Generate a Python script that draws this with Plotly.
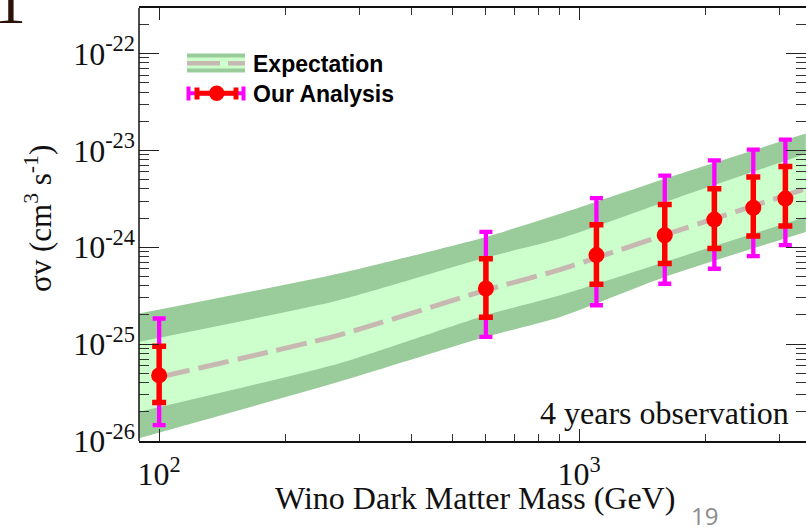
import plotly.graph_objects as go

# ---- data -------------------------------------------------------------
# Expected sensitivity band (log-log), mass in GeV, <sigma v> in cm^3 s^-1
band_mass = [89.6, 268, 600, 902, 1600, 3467]
band_outer_hi = [2.07e-25, 5.36e-25, 1.28e-24, 2.22e-24, 5.11e-24, 1.49e-23]
band_inner_hi = [1.06e-25, 2.84e-25, 7.83e-25, 1.23e-24, 2.93e-24, 9.25e-24]
band_inner_lo = [2.00e-26, 6.32e-26, 1.99e-25, 3.20e-25, 7.05e-25, 2.05e-24]
band_outer_lo = [1.07e-26, 4.08e-26, 1.19e-25, 1.91e-25, 4.94e-25, 1.44e-24]

median_mass = [100, 268, 600, 902, 1600, 3467]
median_sv = [4.57e-26, 1.24e-25, 3.61e-25, 5.89e-25, 1.34e-24, 4.03e-24]

# Analysis result points
wino_mass = [100, 600, 1100, 1600, 2100, 2600, 3100]
sv_center = [4.75e-26, 3.75e-25, 8.3e-25, 1.33e-24, 1.93e-24, 2.56e-24, 3.18e-24]
sv_68_hi = [9.5e-26, 7.6e-25, 1.71e-24, 2.77e-24, 4.03e-24, 5.3e-24, 6.8e-24]
sv_68_lo = [2.5e-26, 1.9e-25, 4.16e-25, 6.8e-25, 9.7e-25, 1.31e-24, 1.66e-24]
sv_95_hi = [1.84e-25, 1.44e-24, 3.22e-24, 5.5e-24, 7.9e-24, 1.02e-23, 1.29e-23]
sv_95_lo = [1.46e-26, 1.19e-25, 2.52e-25, 4.2e-25, 6.0e-25, 8.1e-25, 1.05e-24]

# Axis ticks
x_tickvals = [100, 1000]
x_ticktext = ["10<sup>2</sup>", "10<sup>3</sup>"]
y_tickvals = [1e-26, 1e-25, 1e-24, 1e-23, 1e-22]
y_ticktext = ["10<sup>-26</sup>", "10<sup>-25</sup>", "10<sup>-24</sup>",
              "10<sup>-23</sup>", "10<sup>-22</sup>"]

# ---- styling ----------------------------------------------------------
W, H = 806, 529
ML, MR, MT, MB = 139, 0, 8, 88
PW, PH = W - ML - MR, H - MT - MB

DARK_GREEN = "#9acb9a"
LIGHT_GREEN = "#ccffcc"
MEDIAN_COL = "#c8b8b2"
SERIF = "Liberation Serif, Times New Roman, serif"
SANS = "Liberation Sans, Arial, sans-serif"
SMOOTH = dict(width=0, shape="spline", smoothing=0.6)


def px(x):
    """horizontal pixel -> paper coordinate"""
    return (x - ML) / PW


def py(y):
    """vertical pixel (from top) -> paper coordinate"""
    return 1 - (y - MT) / PH


fig = go.Figure()

# outer band
fig.add_trace(go.Scatter(x=band_mass, y=band_outer_hi, mode="lines",
                         line=SMOOTH, showlegend=False, hoverinfo="skip"))
fig.add_trace(go.Scatter(x=band_mass, y=band_outer_lo, mode="lines",
                         line=SMOOTH, fill="tonexty", fillcolor=DARK_GREEN,
                         showlegend=False, hoverinfo="skip"))
# inner band
fig.add_trace(go.Scatter(x=band_mass, y=band_inner_hi, mode="lines",
                         line=SMOOTH, showlegend=False, hoverinfo="skip"))
fig.add_trace(go.Scatter(x=band_mass, y=band_inner_lo, mode="lines",
                         line=SMOOTH, fill="tonexty", fillcolor=LIGHT_GREEN,
                         showlegend=False, hoverinfo="skip"))
# median expectation
fig.add_trace(go.Scatter(x=median_mass, y=median_sv, mode="lines",
                         line=dict(color=MEDIAN_COL, width=5, dash="31px,9px",
                                   shape="spline", smoothing=0.6),
                         showlegend=False))

# 95% error bars
fig.add_trace(go.Scatter(
    x=wino_mass, y=sv_center, mode="markers", marker=dict(size=1, opacity=0),
    error_y=dict(type="data", symmetric=False,
                 array=[h - c for h, c in zip(sv_95_hi, sv_center)],
                 arrayminus=[c - l for c, l in zip(sv_center, sv_95_lo)],
                 color="#ff00ff", thickness=4.3, width=6.5),
    showlegend=False))
# 68% error bars with points
fig.add_trace(go.Scatter(
    x=wino_mass, y=sv_center, mode="markers",
    marker=dict(size=16, color="#ff0000"),
    error_y=dict(type="data", symmetric=False,
                 array=[h - c for h, c in zip(sv_68_hi, sv_center)],
                 arrayminus=[c - l for c, l in zip(sv_center, sv_68_lo)],
                 color="#ff0000", thickness=5.5, width=7),
    showlegend=False))

# ---- hand-drawn legend ------------------------------------------------
shapes = []
# band icon
shapes.append(dict(type="rect", xref="paper", yref="paper",
                   x0=px(187), x1=px(245), y0=py(72.5), y1=py(53.5),
                   fillcolor=DARK_GREEN, line=dict(width=0)))
shapes.append(dict(type="rect", xref="paper", yref="paper",
                   x0=px(187), x1=px(245), y0=py(68.5), y1=py(57.5),
                   fillcolor=LIGHT_GREEN, line=dict(width=0)))
for a, b in [(187, 220), (228, 245)]:
    shapes.append(dict(type="line", xref="paper", yref="paper",
                       x0=px(a), x1=px(b), y0=py(63.3), y1=py(63.3),
                       line=dict(color=MEDIAN_COL, width=4.5)))
# error-bar icon
shapes.append(dict(type="line", xref="paper", yref="paper",
                   x0=px(187), x1=px(245), y0=py(93.3), y1=py(93.3),
                   line=dict(color="#ff00ff", width=4)))
for xc in (188.5, 243.5):
    shapes.append(dict(type="line", xref="paper", yref="paper",
                       x0=px(xc), x1=px(xc), y0=py(86.5), y1=py(100.5),
                       line=dict(color="#ff00ff", width=4)))
shapes.append(dict(type="line", xref="paper", yref="paper",
                   x0=px(196), x1=px(237), y0=py(93.3), y1=py(93.3),
                   line=dict(color="#ff0000", width=5)))
for xc in (197, 236):
    shapes.append(dict(type="line", xref="paper", yref="paper",
                       x0=px(xc), x1=px(xc), y0=py(87.5), y1=py(99.5),
                       line=dict(color="#ff0000", width=5)))
shapes.append(dict(type="circle", xref="paper", yref="paper",
                   x0=px(209), x1=px(224.5), y0=py(101), y1=py(85.5),
                   fillcolor="#ff0000", line=dict(width=0)))
# left frame line
shapes.append(dict(type="line", xref="paper", yref="paper",
                   x0=0, x1=0, y0=0, y1=1, line=dict(color="#111", width=1.5)))

annotations = [
    dict(text="<b>Expectation</b>", xref="paper", yref="paper",
         x=px(251), y=py(63.5), xanchor="left", yanchor="middle",
         showarrow=False, font=dict(family=SANS, size=23, color="#000")),
    dict(text="<b>Our Analysis</b>", xref="paper", yref="paper",
         x=px(251), y=py(94), xanchor="left", yanchor="middle",
         showarrow=False, font=dict(family=SANS, size=23, color="#000")),
    dict(text="4 years observation", xref="paper", yref="paper",
         x=px(791), y=py(413), xanchor="right", yanchor="middle",
         showarrow=False, font=dict(family=SERIF, size=32, color="#111")),
    dict(text="Wino Dark Matter Mass (GeV)", xref="paper", yref="paper",
         x=px(475), y=py(498), xanchor="center", yanchor="middle",
         showarrow=False, font=dict(family=SERIF, size=32, color="#111")),
    dict(text="σv (cm<sup>3</sup> s<sup>-1</sup>)", xref="paper", yref="paper",
         x=px(38), y=py(219), xanchor="center", yanchor="middle", textangle=-90,
         showarrow=False, font=dict(family=SERIF, size=31, color="#111")),
    dict(text="19", xref="paper", yref="paper",
         x=px(704.5), y=py(515), xanchor="center", yanchor="middle",
         showarrow=False, font=dict(family="Open Sans, sans-serif", size=24, color="#8c8c8c")),
    dict(text="1", xref="paper", yref="paper",
         x=px(-8), y=py(39), xanchor="left", yanchor="bottom",
         showarrow=False, font=dict(family=SERIF, size=64, color="#2a1208")),
]

y_minor = [k * 10.0 ** e for e in range(-26, -21) for k in range(2, 10)
           if k * 10.0 ** e < 2.9e-22]
x_minor = [k * 100 for k in range(2, 10)] + [2000, 3000]

fig.update_layout(
    width=W, height=H,
    margin=dict(l=ML, r=MR, t=MT, b=MB),
    paper_bgcolor="white", plot_bgcolor="white",
    showlegend=False,
    shapes=shapes, annotations=annotations,
    xaxis=dict(type="log", range=[1.952, 3.5405],
               tickmode="array", tickvals=x_tickvals, ticktext=x_ticktext,
               ticks="inside", ticklen=12, tickwidth=1.3, tickcolor="#222",
               minor=dict(tickmode="array", tickvals=x_minor, ticks="inside",
                          ticklen=7, tickwidth=1, tickcolor="#333", showgrid=False),
               showline=True, linecolor="#111", linewidth=1.5, mirror="allticks",
               showgrid=False, zeroline=False, ticklabelstandoff=4,
               tickfont=dict(family=SERIF, size=32, color="#111")),
    yaxis=dict(type="log", range=[-26, -21.53],
               tickmode="array", tickvals=y_tickvals, ticktext=y_ticktext,
               ticks="inside", ticklen=20, tickwidth=1.3, tickcolor="#222",
               minor=dict(tickmode="array", tickvals=y_minor, ticks="inside",
                          ticklen=10, tickwidth=1, tickcolor="#333", showgrid=False),
               showline=False, mirror="allticks",
               showgrid=False, zeroline=False, ticklabelstandoff=3,
               tickfont=dict(family=SERIF, size=32, color="#111")),
)

fig.write_html("out.html")
